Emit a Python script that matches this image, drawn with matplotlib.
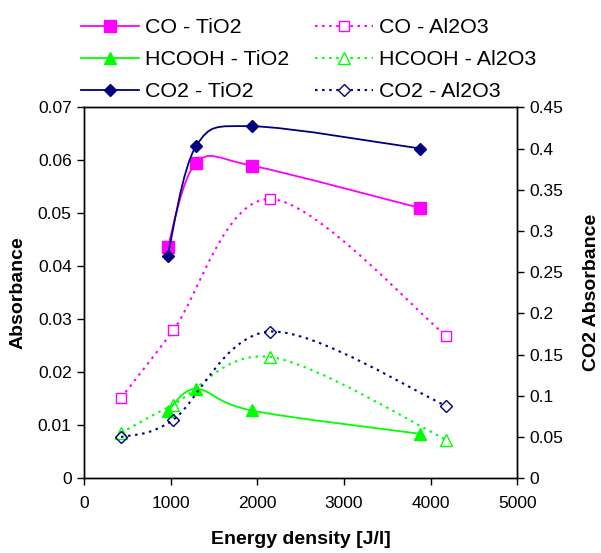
import numpy as np
import matplotlib.pyplot as plt
from matplotlib.path import Path
from matplotlib.patches import PathPatch
from matplotlib.lines import Line2D
from matplotlib.ticker import FuncFormatter

plt.rcParams['font.family'] = ['Liberation Sans', 'DejaVu Sans']

# data
x_tio2 = [964, 1293, 1934, 3880]
co_tio2 = [0.0436, 0.0595, 0.0590, 0.0510]
hcooh_tio2 = [0.0127, 0.0169, 0.0128, 0.0084]
co2_tio2 = [0.270, 0.403, 0.427, 0.400]

x_al2o3 = [427, 1028, 2148, 4180]
co_al2o3 = [0.0152, 0.0279, 0.0527, 0.0269]
hcooh_al2o3 = [0.0086, 0.0139, 0.0229, 0.0073]
co2_al2o3 = [0.050, 0.071, 0.178, 0.088]

MAG = '#FF00FF'
GRN = '#00FF00'
NAV = '#000080'


def smooth(ax, xs, ys, color, ls, lw):
    # Excel-like smoothed line (Catmull-Rom as cubic Bezier)
    p = np.column_stack([xs, ys]).astype(float)
    n = len(p)
    verts = [p[0]]
    codes = [Path.MOVETO]
    for i in range(n - 1):
        p0 = p[i - 1] if i > 0 else p[i]
        p3 = p[i + 2] if i + 2 < n else p[i + 1]
        c1 = p[i] + (p[i + 1] - p0) / 6
        c2 = p[i + 1] - (p3 - p[i]) / 6
        verts += [c1, c2, p[i + 1]]
        codes += [Path.CURVE4] * 3
    patch = PathPatch(Path(verts, codes), fill=False, edgecolor=color,
                      linestyle=ls, linewidth=lw, zorder=2)
    ax.add_patch(patch)


dot = (0, (1.2, 2.2))

fig = plt.figure(figsize=(6.01, 5.53), dpi=100)
ax = fig.add_axes([0.14, 0.135, 0.7205, 0.671])
ax2 = ax.twinx()

smooth(ax, x_tio2, co_tio2, MAG, '-', 1.3)
smooth(ax, x_tio2, hcooh_tio2, GRN, '-', 1.3)
smooth(ax2, x_tio2, co2_tio2, NAV, '-', 1.3)
smooth(ax, x_al2o3, co_al2o3, MAG, dot, 1.5)
smooth(ax, x_al2o3, hcooh_al2o3, GRN, dot, 1.5)
smooth(ax2, x_al2o3, co2_al2o3, NAV, dot, 1.5)

ax.plot(x_tio2, co_tio2, ls='none', marker='s', ms=8, color=MAG, zorder=3)
ax.plot(x_tio2, hcooh_tio2, ls='none', marker='^', ms=9, color=GRN, zorder=3)
ax2.plot(x_tio2, co2_tio2, ls='none', marker='D', ms=6.5, color=NAV, zorder=3)
ax.plot(x_al2o3, co_al2o3, ls='none', marker='s', ms=7.5, mfc='white', mec=MAG, mew=1, zorder=3)
ax.plot(x_al2o3, hcooh_al2o3, ls='none', marker='^', ms=8.5, mfc='none', mec=GRN, mew=1, zorder=3)
ax2.plot(x_al2o3, co2_al2o3, ls='none', marker='D', ms=6, mfc='none', mec=NAV, mew=1, zorder=3)

ax.set_xlim(0, 5000)
ax.set_ylim(0, 0.07)
ax2.set_ylim(0, 0.45)
ax.set_xticks(np.arange(0, 5001, 1000))
ax.set_yticks(np.arange(0, 0.0701, 0.01))
ax2.set_yticks(np.arange(0, 0.451, 0.05))
fmt = FuncFormatter(lambda v, p: '%g' % round(v, 4))
ax.yaxis.set_major_formatter(fmt)
ax2.yaxis.set_major_formatter(fmt)

for a in (ax, ax2):
    a.tick_params(direction='out', length=5, width=1, labelsize=12.5, pad=4)
    for s in a.spines.values():
        s.set_linewidth(1)
ax.tick_params(axis='x', pad=8)

ax.set_xlabel('Energy density [J/l]', fontsize=14, fontweight='bold', labelpad=14)
ax.set_ylabel('Absorbance', fontsize=14, fontweight='bold', labelpad=8)
ax2.set_ylabel('CO2 Absorbance', fontsize=14, fontweight='bold', labelpad=14)

handles = [
    Line2D([], [], color=MAG, lw=1.3, marker='s', ms=8),
    Line2D([], [], color=GRN, lw=1.3, marker='^', ms=9),
    Line2D([], [], color=NAV, lw=1.3, marker='D', ms=6.5),
    Line2D([], [], color=MAG, lw=1.5, ls=dot, marker='s', ms=7.5, mfc='white', mec=MAG, mew=1),
    Line2D([], [], color=GRN, lw=1.5, ls=dot, marker='^', ms=8.5, mfc='white', mec=GRN, mew=1),
    Line2D([], [], color=NAV, lw=1.5, ls=dot, marker='D', ms=6, mfc='white', mec=NAV, mew=1),
]
labels = ['CO - TiO2', 'HCOOH - TiO2', 'CO2 - TiO2',
          'CO - Al2O3', 'HCOOH - Al2O3', 'CO2 - Al2O3']
fig.legend(handles, labels, ncol=2, loc='upper left', bbox_to_anchor=(0.117, 0.986),
           frameon=False, fontsize=15.4, handlelength=2.7, handletextpad=0.3,
           columnspacing=1.2, labelspacing=0.6, borderpad=0, numpoints=1)

fig.savefig('out.png', dpi=100)
